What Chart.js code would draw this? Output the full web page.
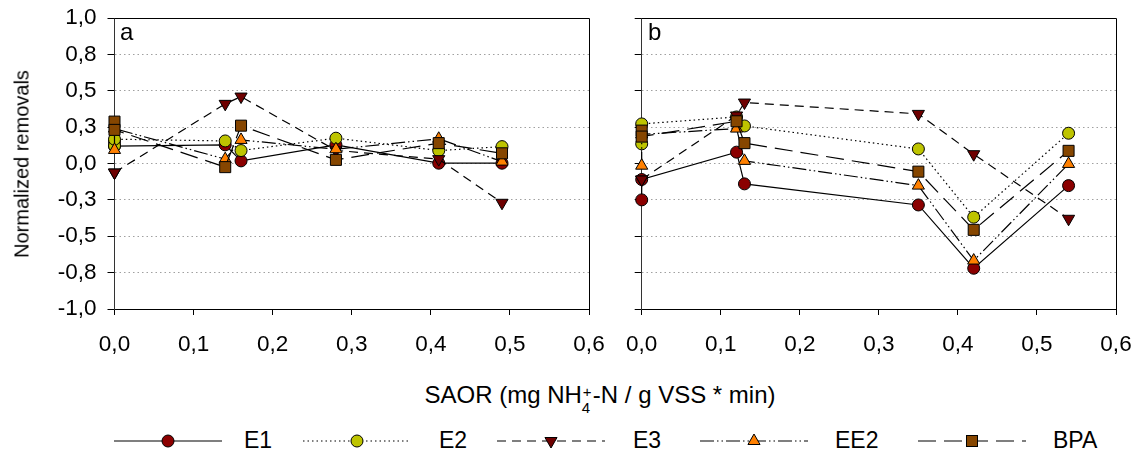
<!DOCTYPE html>
<html><head><meta charset="utf-8">
<script src="https://cdn.jsdelivr.net/npm/chart.js@4.4.1/dist/chart.umd.min.js"></script>
<style>
html,body{margin:0;padding:0;background:#fff;}
body{width:1139px;height:457px;overflow:hidden;position:relative;font-family:"Liberation Sans",Arial,sans-serif;color:#000;}
canvas{position:absolute;top:0;}
#ca{left:0;}
#cb{left:600px;}
.t{position:absolute;white-space:nowrap;font-size:24px;}
#ytitle{left:22px;top:164px;transform:translate(-50%,-50%) rotate(-90deg);font-size:20px;}
#xtitle{left:600px;top:395px;transform:translate(-50%,-50%);}
.pl{position:absolute;font-size:24px;top:18px;}
.leg{position:absolute;top:432px;height:18px;}
.legt{position:absolute;top:427px;font-size:23px;}
.ch{position:relative;display:inline-block;width:11px;height:10px;}
.ch span{position:absolute;left:0;font-size:15px;}
</style></head>
<body>
<canvas id="ca" width="620" height="370"></canvas>
<canvas id="cb" width="539" height="370"></canvas>
<div class="t" id="ytitle">Normalized removals</div>
<div class="t" id="xtitle">SAOR (mg NH<span class="ch"><span style="top:-10px;left:1px">+</span><span style="top:6px">4</span></span>-N / g VSS * min)</div>
<div class="pl" style="left:120px">a</div>
<div class="pl" style="left:648px">b</div>
<div id="legend"></div>
<script>
// ---- data ----
const seriesNames = ['E1', 'E2', 'E3', 'EE2', 'BPA'];

// panel a (SAOR values of each measurement)
const xA = [0, 0, 0.14, 0.16, 0.28, 0.41, 0.49];
const aE1  = [0.15, 0.12, 0.128, 0.018, 0.128, 0.002, 0.002];
const aE2  = [0.121, 0.167, 0.155, 0.089, 0.174, 0.089, 0.116];
const aE3  = [-0.062, -0.062, 0.41, 0.46, 0.09, 0.03, -0.27];
const aEE2 = [0.093, 0.24, 0.03, 0.162, 0.098, 0.17, 0.013];
const aBPA = [0.288, 0.231, -0.025, 0.26, 0.025, 0.14, 0.07];

// panel b
const xB = [0, 0, 0.12, 0.13, 0.35, 0.42, 0.54];
const bE1  = [-0.25, -0.11, 0.078, -0.14, -0.285, -0.72, -0.152];
const bE2  = [0.135, 0.272, 0.32, 0.258, 0.1, -0.369, 0.208];
const bE3  = [-0.11, -0.11, 0.33, 0.419, 0.341, 0.064, -0.38];
const bEE2 = [-0.015, 0.2, 0.24, 0.018, -0.152, -0.667, -0.003];
const bBPA = [0.226, 0.185, 0.29, 0.14, -0.056, -0.456, 0.087];

// ticks
const xTickValues = [0, 0.1, 0.2, 0.3, 0.4, 0.5, 0.6];
const xTickLabels = ['0,0', '0,1', '0,2', '0,3', '0,4', '0,5', '0,6'];
const yTickValues = [-1, -0.75, -0.5, -0.25, 0, 0.25, 0.5, 0.75, 1];
const yTickLabels = ['-1,0', '-0,8', '-0,5', '-0,3', '0,0', '0,3', '0,5', '0,8', '1,0'];

// ---- styles ----
const styles = {
  E1:  {color: '#8b0000', pointStyle: 'circle',   rotation: 0,   radius: 6,   dash: []},
  E2:  {color: '#bec400', pointStyle: 'circle',   rotation: 0,   radius: 6,   dash: [1.5, 3]},
  E3:  {color: '#6e0000', pointStyle: 'triangle', rotation: 180, radius: 7,   dash: [9, 6]},
  EE2: {color: '#ff8000', pointStyle: 'triangle', rotation: 0,   radius: 7,   dash: [14, 3, 1.5, 3, 1.5, 3]},
  BPA: {color: '#864600', pointStyle: 'rect',     rotation: 0,   radius: 7.8, dash: [18, 8]}
};

const tickFont = {family: '"Liberation Sans", Arial, sans-serif', size: 22.5};

const framePlugin = {
  id: 'frame',
  beforeDatasetsDraw(chart) {
    const {ctx, chartArea: a} = chart;
    ctx.save();
    ctx.strokeStyle = '#000';
    ctx.lineWidth = 1;
    ctx.beginPath();
    ctx.moveTo(a.left, a.top + 0.5);
    ctx.lineTo(a.right + 0.5, a.top + 0.5);
    ctx.lineTo(a.right + 0.5, a.bottom);
    ctx.stroke();
    ctx.restore();
  }
};

function makeChart(id, xs, sets, cfg) {
  return new Chart(document.getElementById(id), {
    type: 'line',
    data: {
      datasets: seriesNames.map((n, i) => ({
        label: n,
        data: xs.map((x, j) => ({x: x, y: sets[i][j]})),
        borderColor: '#000',
        borderWidth: 1.2,
        borderDash: styles[n].dash,
        pointStyle: styles[n].pointStyle,
        rotation: styles[n].rotation,
        pointRadius: styles[n].radius,
        pointBackgroundColor: styles[n].color,
        pointBorderColor: '#000',
        pointBorderWidth: 1,
        tension: 0,
        fill: false,
        clip: false,
        order: seriesNames.length - i
      }))
    },
    options: {
      responsive: false,
      animation: false,
      events: [],
      layout: {autoPadding: false, padding: {left: 0, top: 18, right: cfg.right, bottom: 0}},
      plugins: {legend: {display: false}, tooltip: {enabled: false}},
      scales: {
        x: {
          type: 'linear', min: 0, max: 0.6,
          afterBuildTicks: s => { s.ticks = xTickValues.map(v => ({value: v})); },
          afterFit: s => { s.height = 370 - 309; s.paddingLeft = 0; s.paddingRight = 0; },
          ticks: {callback: (v, i) => xTickLabels[i], font: tickFont, color: '#000', padding: 16, maxRotation: 0, autoSkip: false},
          grid: {drawOnChartArea: false, drawTicks: true, tickLength: 6, tickColor: '#000', tickWidth: 1},
          border: {color: '#000', width: 1}
        },
        y: {
          type: 'linear', min: -1, max: 1,
          afterBuildTicks: s => { s.ticks = yTickValues.map(v => ({value: v})); },
          afterFit: s => { s.width = cfg.yw; s.paddingTop = 0; s.paddingBottom = 0; },
          ticks: {display: cfg.showY, callback: (v, i) => yTickLabels[i], font: tickFont, color: '#000', padding: 11, autoSkip: false},
          grid: {
            color: c => (c.tick && Math.abs(c.tick.value) === 1) ? 'rgba(0,0,0,0)' : '#a0a0a0',
            lineWidth: 1, drawTicks: true, tickLength: 7, tickColor: '#000', tickWidth: 1
          },
          border: {color: '#333', width: 1, dash: [1.5, 3]}
        }
      }
    },
    plugins: [framePlugin]
  });
}

makeChart('ca', xA, [aE1, aE2, aE3, aEE2, aBPA], {right: 31, yw: 114.5, showY: true});
makeChart('cb', xB, [bE1, bE2, bE3, bEE2, bBPA], {right: 23, yw: 41.7, showY: false});

// ---- legend (HTML/SVG) ----
const legLineLeft = [114, 303, 497, 700, 918];
const legTextLeft = [244, 439, 633, 835, 1053];
function markerSvg(n, cx, cy) {
  const s = styles[n];
  if (s.pointStyle === 'circle') return `<circle cx="${cx}" cy="${cy}" r="6" fill="${s.color}" stroke="#000" stroke-width="1"/>`;
  if (s.pointStyle === 'rect') return `<rect x="${cx - 5.5}" y="${cy - 5.5}" width="11" height="11" fill="${s.color}" stroke="#000" stroke-width="1"/>`;
  const r = 7, d = s.rotation === 180 ? -1 : 1;
  const pts = [[cx, cy - d * r], [cx + r * 0.866, cy + d * r / 2], [cx - r * 0.866, cy + d * r / 2]];
  return `<polygon points="${pts.map(p => p.join(',')).join(' ')}" fill="${s.color}" stroke="#000" stroke-width="1"/>`;
}
let html = '';
seriesNames.forEach((n, i) => {
  const w = 108;
  html += `<svg class="leg" style="left:${legLineLeft[i]}px" width="${w}" height="18">` +
    `<line x1="0" y1="9" x2="${w}" y2="9" stroke="#000" stroke-width="1.2" stroke-dasharray="${styles[n].dash.join(' ') || 'none'}"/>` +
    markerSvg(n, w / 2, 9) + `</svg>` +
    `<div class="legt" style="left:${legTextLeft[i]}px">${n}</div>`;
});
document.getElementById('legend').innerHTML = html;
</script>
</body></html>
